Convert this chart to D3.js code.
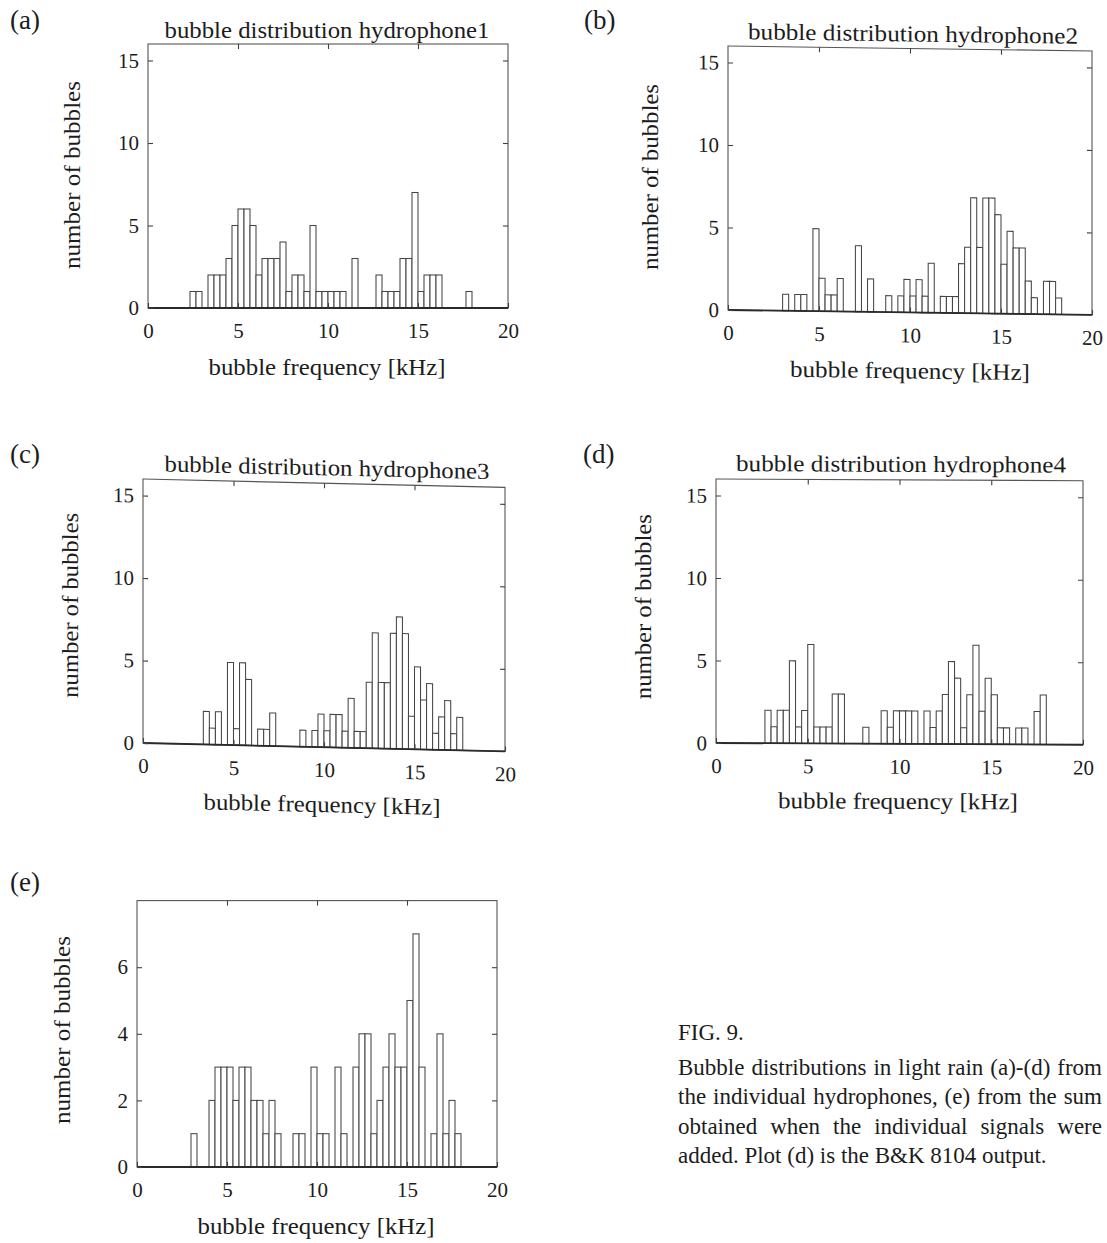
<!DOCTYPE html>
<html><head><meta charset="utf-8">
<script src="https://cdn.jsdelivr.net/npm/d3@7"></script>
<style>
body{margin:0;background:#fff}
svg{display:block}
text{font-family:"Liberation Serif","Times New Roman",serif;fill:#1c1c1c}
</style>
</head><body>
<svg id="fig" width="1107" height="1243"></svg>
<script>
// ---------------- data ----------------
const binWidth = 1 / 3;            // kHz per histogram bin
const freqRange = [0, 20];         // kHz
const xTickValues = [0, 5, 10, 15, 20];
const yTickValues = [0, 5, 10, 15];
const yTickValuesE = [0, 2, 4, 6];
const panelTags = ["(a)", "(b)", "(c)", "(d)", "(e)"];
const panelTitles = ["bubble distribution hydrophone1", "bubble distribution hydrophone2",
                     "bubble distribution hydrophone3", "bubble distribution hydrophone4", null];
const xAxisTitle = "bubble frequency [kHz]";
const yAxisTitle = "number of bubbles";

// bubble counts per 1/3-kHz bin (bin i covers [i/3, (i+1)/3) kHz)
const countsA = [0,0,0,0,0,0,0,1,1,0, 2,2,2,3,5,6,6,5,2,3, 3,3,4,1,2,2,1,5,1,1,
                 1,1,1,0,3,0,0,0,2,1, 1,1,3,3,7,1,2,2,2,0, 0,0,0,1,0,0,0,0,0,0];
const countsB = [0,0,0,0,0,0,0,0,0,1, 0,1,1,0,5,2,1,1,2,0, 0,4,0,2,0,0,1,0,1,2,
                 1,2,1,3,0,1,1,1,3,4, 7,4,7,7,6,3,5,4,4,2, 1,0,2,2,1,0,0,0,0,0];
const countsC = [0,0,0,0,0,0,0,0,0,0, 2,1,2,0,5,1,5,4,0,1, 1,2,0,0,0,0,1,0,1,2,
                 1,2,2,1,3,1,1,4,7,4, 4,7,8,7,2,5,3,4,1,2, 3,1,2,0,0,0,0,0,0,0];
const countsD = [0,0,0,0,0,0,0,0,2,1, 2,2,5,1,2,6,1,1,1,3, 3,0,0,0,1,0,0,2,1,2,
                 2,2,2,0,2,1,2,3,5,4, 1,3,6,2,4,3,1,1,0,1, 1,0,2,3,0,0,0,0,0,0];
const countsE = [0,0,0,0,0,0,0,0,0,1, 0,0,2,3,3,3,2,3,3,2, 2,1,2,1,0,0,1,1,0,3,
                 1,1,0,3,1,0,3,4,4,1, 2,3,4,3,3,5,7,3,0,1, 4,1,2,1,0,0,0,0,0,0];
const yMaxMain = 16, yMaxE = 8;

const captionHead = "FIG. 9.";
const captionLines = ["Bubble distributions in light rain (a)-(d) from",
                      "the individual hydrophones, (e) from the sum",
                      "obtained when the individual signals were",
                      "added. Plot (d) is the B&K 8104 output."];

// ---------------- layout (pixels) ----------------
const layout = [
  {counts: countsA, yMax: yMaxMain, yTicks: yTickValues, L:148, R:508, B:308, skew:0,
   tag:[10,29], title:[327,38,325], xlab:[327,375,237], ylab:[80,175,188]},
  {counts: countsB, yMax: yMaxMain, yTicks: yTickValues, L:728, R:1092, B:310, skew:0.78,
   tag:[584,29], title:[913,39,330], xlab:[910,376,240], ylab:[658,178,186]},
  {counts: countsC, yMax: yMaxMain, yTicks: yTickValues, L:143, R:505, B:743, skew:1.33,
   tag:[10,463], title:[327,471,325], xlab:[322,808,237], ylab:[78,607,185]},
  {counts: countsD, yMax: yMaxMain, yTicks: yTickValues, L:716, R:1083, B:743, skew:0.27,
   tag:[583,463], title:[901,471,330], xlab:[898,808,240], ylab:[651,607,185]},
  {counts: countsE, yMax: yMaxE, yTicks: yTickValuesE, L:137, R:497, B:1167, skew:0,
   tag:[10,891], title:null, xlab:[316,1234,237], ylab:[70,1030,188]}
];
const unitMain = 16.5;  // px per bubble (a)-(d)
const unitE = 33.3;

const svg = d3.select("#fig");
svg.append("rect").attr("width",1107).attr("height",1243).attr("fill","#fff");

layout.forEach((p, k) => {
  const unit = p.yMax === yMaxE ? unitE : unitMain;
  const T = p.B - unit * p.yMax;
  const x = d3.scaleLinear().domain(freqRange).range([p.L, p.R]);
  const y = d3.scaleLinear().domain([0, p.yMax]).range([p.B, T]);

  const g = svg.append("g")
    .attr("transform", `translate(${p.L},${p.B}) skewY(${p.skew}) translate(${-p.L},${-p.B})`);

  svg.append("text").attr("x", p.tag[0]).attr("y", p.tag[1])
    .attr("font-size", 27).text(panelTags[k]);

  // bars
  const bins = p.counts.map((c, i) => ({i, c})).filter(d => d.c > 0);
  g.append("g").selectAll("rect").data(bins).join("rect")
    .attr("x", d => x(d.i * binWidth))
    .attr("width", d => x((d.i + 1) * binWidth) - x(d.i * binWidth))
    .attr("y", d => y(d.c))
    .attr("height", d => y(0) - y(d.c))
    .attr("fill", "#fff")
    .attr("stroke", "#464646")
    .attr("stroke-width", 1.05);

  // frame
  g.append("rect").attr("x", p.L).attr("y", T).attr("width", p.R - p.L).attr("height", p.B - T)
    .attr("fill", "none").attr("stroke", "#555").attr("stroke-width", 1.1);
  // zero line
  g.append("line").attr("x1", p.L).attr("x2", p.R).attr("y1", y(0)).attr("y2", y(0))
    .attr("stroke", "#2a2a2a").attr("stroke-width", 1.8);

  const styleAxis = sel => {
    sel.select(".domain").remove();
    sel.selectAll("line").attr("stroke", "#404040").attr("stroke-width", 1.1);
    sel.selectAll("text").attr("font-family", "Liberation Serif, serif").attr("font-size", 21).attr("fill", "#1c1c1c");
  };
  g.append("g").attr("transform", `translate(0,${p.B})`)
    .call(d3.axisBottom(x).tickValues(xTickValues).tickSizeInner(-5).tickSizeOuter(0).tickPadding(15).tickFormat(d3.format("d")))
    .call(styleAxis);
  g.append("g").attr("transform", `translate(0,${T})`)
    .call(d3.axisTop(x).tickValues(xTickValues.slice(1, -1)).tickSizeInner(-5).tickSizeOuter(0).tickFormat(""))
    .call(styleAxis);
  g.append("g").attr("transform", `translate(${p.L},0)`)
    .call(d3.axisLeft(y).tickValues(p.yTicks).tickSizeInner(-5).tickSizeOuter(0).tickPadding(9).tickFormat(d3.format("d")))
    .call(styleAxis);
  g.append("g").attr("transform", `translate(${p.R},0)`)
    .call(d3.axisRight(y).tickValues(p.yTicks.slice(1)).tickSizeInner(-5).tickSizeOuter(0).tickFormat(""))
    .call(styleAxis);

  if (panelTitles[k]) {
    g.append("text").attr("x", p.title[0]).attr("y", p.title[1]).attr("text-anchor", "middle")
      .attr("font-size", 23).attr("textLength", p.title[2]).attr("lengthAdjust", "spacingAndGlyphs")
      .text(panelTitles[k]);
  }
  g.append("text").attr("x", p.xlab[0]).attr("y", p.xlab[1]).attr("text-anchor", "middle")
    .attr("font-size", 23).attr("textLength", p.xlab[2]).attr("lengthAdjust", "spacingAndGlyphs")
    .text(xAxisTitle);
  g.append("text").attr("transform", `translate(${p.ylab[0]},${p.ylab[1]}) rotate(-90)`)
    .attr("text-anchor", "middle").attr("font-size", 23)
    .attr("textLength", p.ylab[2]).attr("lengthAdjust", "spacingAndGlyphs")
    .text(yAxisTitle);
});

// caption (justified to fit within the page)
const capX = 678, capW = 424;
svg.append("text").attr("x", capX).attr("y", 1040).attr("font-size", 23).text(captionHead);
const capY = [1075, 1104, 1134, 1163];
captionLines.forEach((line, i) => {
  const t = svg.append("text").attr("x", capX).attr("y", capY[i]).attr("font-size", 23).text(line);
  const natural = t.node().getComputedTextLength();
  if (i < captionLines.length - 1 && natural < capW) {
    const gaps = line.split(" ").length - 1;
    t.attr("word-spacing", (capW - natural) / gaps);
  } else if (natural > capW) {
    t.attr("textLength", capW).attr("lengthAdjust", "spacingAndGlyphs");
  }
});
</script>
</body></html>
